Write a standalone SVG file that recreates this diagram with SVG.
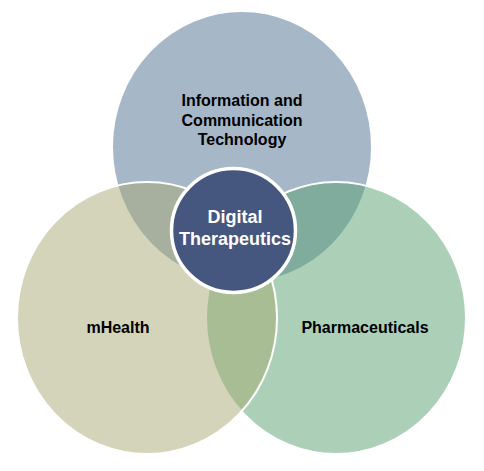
<svg xmlns="http://www.w3.org/2000/svg" width="484" height="471" viewBox="0 0 484 471">
  <style>
    .venn { stroke: #ffffff; stroke-width: 2; }
    .lbl { font-family: "Liberation Sans", Arial, sans-serif; font-weight: bold; font-size: 16px; fill: #000000; text-anchor: middle; }
    .core { font-family: "Liberation Sans", Arial, sans-serif; font-weight: bold; font-size: 18px; fill: #ffffff; text-anchor: middle; }
  </style>
  <rect width="484" height="471" fill="#ffffff"/>
  <g id="node-ict">
    <ellipse class="venn" cx="242" cy="147" rx="130" ry="136" fill="#A6B7C8"/>
  </g>
  <g id="node-pharma">
    <ellipse class="venn" cx="336" cy="318" rx="130" ry="136" fill="#57A16F" fill-opacity="0.5"/>
  </g>
  <g id="node-mhealth">
    <ellipse class="venn" cx="147" cy="318" rx="130" ry="136" fill="#A7A973" fill-opacity="0.5"/>
  </g>
  <g id="labels">
    <text class="lbl" x="242" y="106">Information and</text>
    <text class="lbl" x="242" y="126">Communication</text>
    <text class="lbl" x="242" y="145">Technology</text>
    <text class="lbl" x="118" y="333">mHealth</text>
    <text class="lbl" x="365" y="333">Pharmaceuticals</text>
  </g>
  <g id="connectors"/>
  <g id="node-digital-therapeutics">
    <circle cx="233.5" cy="230.5" r="62" fill="#46577F" stroke="#ffffff" stroke-width="3.5"/>
    <text class="core" x="235" y="223">Digital</text>
    <text class="core" x="235" y="245">Therapeutics</text>
  </g>
</svg>
